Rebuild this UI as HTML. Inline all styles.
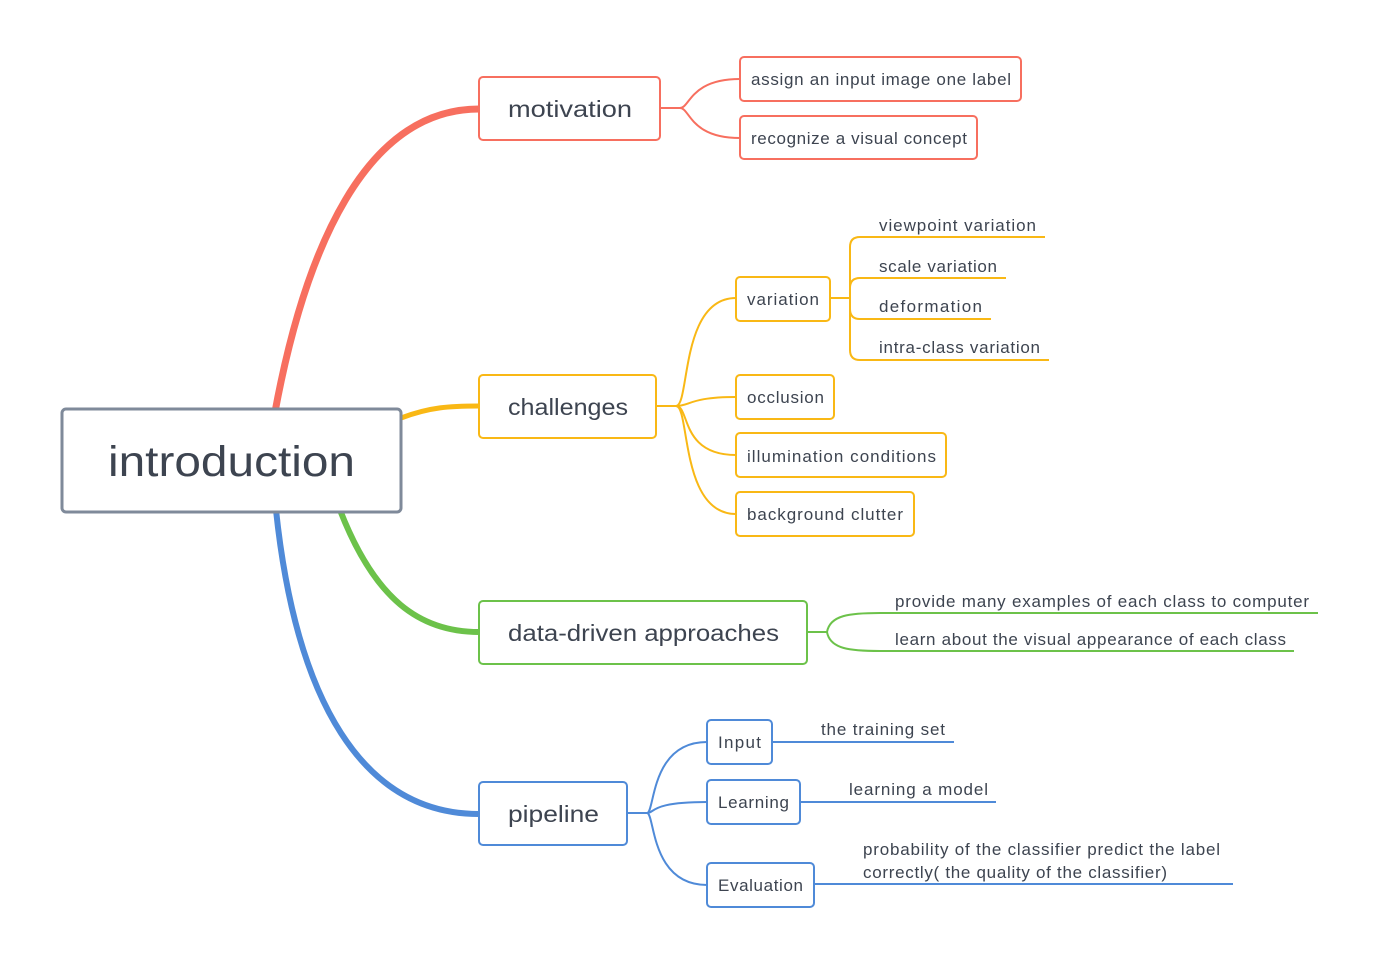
<!DOCTYPE html>
<html><head><meta charset="utf-8"><style>
body{margin:0;background:#fff}
svg text{font-family:"Liberation Sans",sans-serif;fill:#3d4450}
</style></head><body>
<svg width="1398" height="956" viewBox="0 0 1398 956" xmlns="http://www.w3.org/2000/svg">
<g fill="none" stroke-linecap="butt">
<path d="M275 412 C305 250 365 109 479 109" stroke="#f76f5f" stroke-width="7"/>
<path d="M401 418 C430 407 450 406 479 406" stroke="#f9b815" stroke-width="5"/>
<path d="M340 510 C375 600 420 632 479 632" stroke="#6cc24a" stroke-width="6"/>
<path d="M276 510 C296 700 362 814 479 814" stroke="#4f8ad8" stroke-width="6"/>
<g stroke="#f76f5f" stroke-width="2">
<path d="M660 108 H680 C690 108 690 79 740 79"/>
<path d="M680 108 C690 108 690 138 740 138"/>
</g>
<g stroke="#f9b815" stroke-width="2">
<path d="M656 406 H676 C690 406 680 298 736 298"/>
<path d="M676 406 C690 406 690 397 736 397"/>
<path d="M676 406 C690 406 680 455 736 455"/>
<path d="M676 406 C690 406 680 514 736 514"/>
<path d="M830 298 H850"/>
<path d="M850 298 V247 Q850 237 860 237 H1045"/>
<path d="M850 298 V288 Q850 278 860 278 H1006"/>
<path d="M850 298 V309 Q850 319 860 319 H991"/>
<path d="M850 298 V350 Q850 360 860 360 H1049"/>
</g>
<g stroke="#6cc24a" stroke-width="2">
<path d="M807 632 H827 C830 615 850 613 880 613 H1318"/>
<path d="M827 632 C830 649 850 651 880 651 H1294"/>
</g>
<g stroke="#4f8ad8" stroke-width="2">
<path d="M627 813 H647 C655 813 650 742 707 742"/>
<path d="M647 813 C655 813 650 802 707 802"/>
<path d="M647 813 C655 813 650 885 707 885"/>
<path d="M772 742 H954"/>
<path d="M800 802 H996"/>
<path d="M814 884 H1233"/>
</g>
<rect x="62" y="409" width="339" height="103" rx="4" fill="#fff" stroke="#7f8a9a" stroke-width="3"/>
<g fill="#fff" stroke="#f76f5f" stroke-width="2">
<rect x="479" y="77" width="181" height="63" rx="4"/>
<rect x="740" y="57" width="281" height="44" rx="4"/>
<rect x="740" y="116" width="237" height="43" rx="4"/>
</g>
<g fill="#fff" stroke="#f9b815" stroke-width="2">
<rect x="479" y="375" width="177" height="63" rx="4"/>
<rect x="736" y="277" width="94" height="44" rx="4"/>
<rect x="736" y="375" width="98" height="44" rx="4"/>
<rect x="736" y="433" width="210" height="44" rx="4"/>
<rect x="736" y="492" width="178" height="44" rx="4"/>
</g>
<rect x="479" y="601" width="328" height="63" rx="4" fill="#fff" stroke="#6cc24a" stroke-width="2"/>
<g fill="#fff" stroke="#4f8ad8" stroke-width="2">
<rect x="479" y="782" width="148" height="63" rx="4"/>
<rect x="707" y="720" width="65" height="44" rx="4"/>
<rect x="707" y="780" width="93" height="44" rx="4"/>
<rect x="707" y="863" width="107" height="44" rx="4"/>
</g>
</g>
<text x="108" y="476" font-size="43" textLength="247" lengthAdjust="spacingAndGlyphs">introduction</text>
<g font-size="23">
<text x="508" y="117" textLength="124" lengthAdjust="spacingAndGlyphs">motivation</text>
<text x="508" y="415" textLength="120" lengthAdjust="spacingAndGlyphs">challenges</text>
<text x="508" y="641" textLength="271" lengthAdjust="spacingAndGlyphs">data-driven approaches</text>
<text x="508" y="822" textLength="91" lengthAdjust="spacingAndGlyphs">pipeline</text>
</g>
<g font-size="17">
<text x="751" y="85" textLength="260">assign an input image one label</text>
<text x="751" y="144" textLength="216">recognize a visual concept</text>
<text x="747" y="305" textLength="72">variation</text>
<text x="747" y="403" textLength="77">occlusion</text>
<text x="747" y="462" textLength="189">illumination conditions</text>
<text x="747" y="520" textLength="156">background clutter</text>
<text x="879" y="231" textLength="157">viewpoint variation</text>
<text x="879" y="272" textLength="118">scale variation</text>
<text x="879" y="312" textLength="103">deformation</text>
<text x="879" y="353" textLength="161">intra-class variation</text>
<text x="895" y="607" textLength="414">provide many examples of each class to computer</text>
<text x="895" y="645" textLength="391">learn about the visual appearance of each class</text>
<text x="718" y="748" textLength="43">Input</text>
<text x="718" y="808" textLength="71">Learning</text>
<text x="718" y="891" textLength="85">Evaluation</text>
<text x="821" y="735" textLength="124">the training set</text>
<text x="849" y="795" textLength="139">learning a model</text>
<text x="863" y="855" textLength="357">probability of the classifier predict the label</text>
<text x="863" y="878" textLength="304">correctly( the quality of the classifier)</text>
</g>
</svg>
</body></html>
